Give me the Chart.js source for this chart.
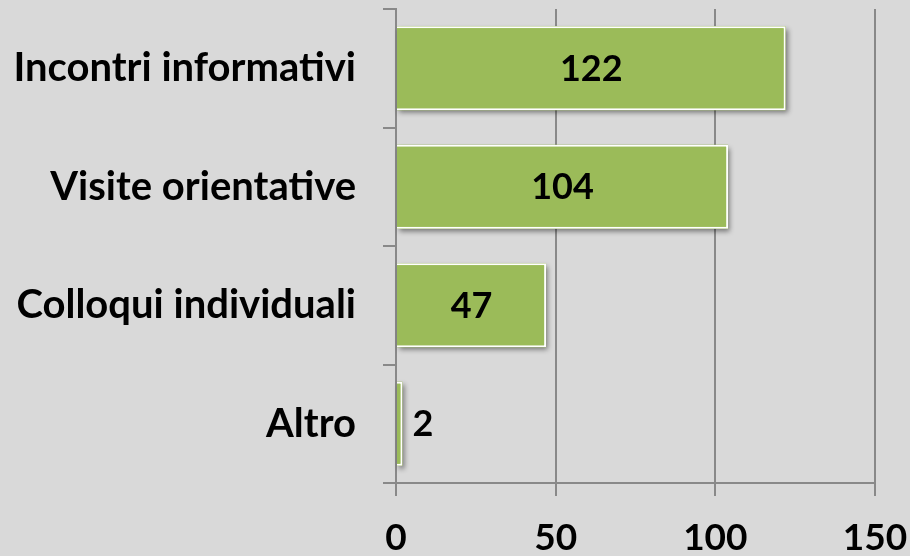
<!DOCTYPE html>
<html><head><meta charset="utf-8">
<script src="https://cdn.jsdelivr.net/npm/chart.js@4/dist/chart.umd.min.js"></script>
<style>html,body{margin:0;padding:0;background:#D9D9D9;}#wrap{width:910px;height:556px;}</style>
</head><body><div id="wrap"><canvas id="c" width="910" height="556"></canvas></div>
<script>
const categories = ["Incontri informativi", "Visite orientative", "Colloqui individuali", "Altro"];
const values = [122, 104, 47, 2];
const xTicks = [0, 50, 100, 150];

const FONT = "Lato, 'Open Sans', sans-serif";
const gridColor = "#898989";

const shadowPlugin = {
  id: 'barShadow',
  beforeDatasetsDraw(chart) {
    const ctx = chart.ctx;
    const meta = chart.getDatasetMeta(0);
    ctx.save();
    ctx.shadowColor = 'rgba(0,0,0,0.45)';
    ctx.shadowBlur = 5;
    ctx.shadowOffsetX = 2;
    ctx.shadowOffsetY = 3;
    ctx.fillStyle = '#9BBB59';
    meta.data.forEach(b => {
      const h = b.height;
      ctx.fillRect(Math.min(b.base, b.x), b.y - h / 2, Math.abs(b.x - b.base), h);
    });
    ctx.restore();
  },
  afterDatasetsDraw(chart) {
    const ctx = chart.ctx;
    const meta = chart.getDatasetMeta(0);
    ctx.save();
    ctx.font = "bold 36px " + FONT;
    ctx.fillStyle = '#000';
    ctx.textBaseline = 'middle';
    meta.data.forEach((b, i) => {
      const w = Math.abs(b.x - b.base);
      const v = String(values[i]);
      if (w > 60) {
        ctx.textAlign = 'center';
        ctx.fillText(v, (b.x + b.base) / 2, b.y + 1);
      } else {
        ctx.textAlign = 'left';
        ctx.fillText(v, b.x + 10, b.y + 1);
      }
    });
    ctx.restore();
  }
};

new Chart(document.getElementById('c'), {
  type: 'bar',
  data: {
    labels: categories,
    datasets: [{
      data: values,
      backgroundColor: '#9BBB59',
      borderColor: '#FFFFFF',
      borderWidth: 2,
      barPercentage: 0.71,
      categoryPercentage: 1
    }]
  },
  options: {
    indexAxis: 'y',
    responsive: false,
    animation: false,
    layout: { padding: { top: 9, right: 35, left: 0, bottom: 0 } },
    plugins: { legend: { display: false }, tooltip: { enabled: false } },
    scales: {
      x: {
        min: 0, max: 150,
        afterBuildTicks: s => { s.ticks = xTicks.map(v => ({ value: v })); },
        afterFit: s => { s.height = 73; s.paddingLeft = 0; s.paddingRight = 0; },
        grid: { color: gridColor, lineWidth: 2, tickLength: 13, drawTicks: true },
        border: { color: gridColor, width: 2 },
        ticks: { color: '#000', font: { family: FONT, size: 37, weight: 'bold' }, padding: 20 }
      },
      y: {
        afterFit: s => { s.width = 396; s.paddingTop = 0; s.paddingBottom = 0; },
        grid: { offset: true, drawOnChartArea: false, color: gridColor, lineWidth: 2, tickLength: 13 },
        border: { color: gridColor, width: 2 },
        ticks: { color: '#000', font: { family: FONT, size: 40, weight: 'bold' }, padding: 27 }
      }
    }
  },
  plugins: [shadowPlugin]
});
</script>
</body></html>
